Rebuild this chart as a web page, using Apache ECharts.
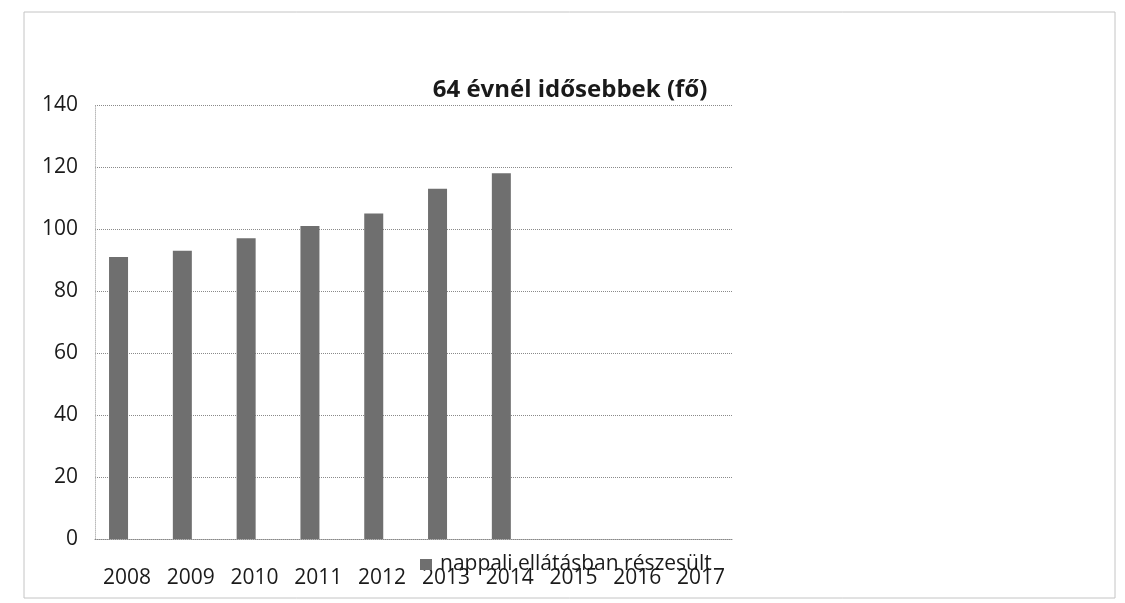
<!DOCTYPE html>
<html><head><meta charset="utf-8">
<script src="https://cdn.jsdelivr.net/npm/echarts@6/dist/echarts.min.js"></script>
<style>html,body{margin:0;padding:0;background:#fff}#c{width:1125px;height:603px}</style>
</head><body><div id="c"></div>
<script>
const categories = ['2008','2009','2010','2011','2012','2013','2014','2015','2016','2017'];
const values = [91, 93, 97, 101, 105, 113, 118, null, null, null];
const emptyValues = [null, null, null, null, null, null, null, null, null, null];
const seriesName = 'nappali ellátásban részesült';
const titleText = '64 évnél idősebbek (fő)';

const chart = echarts.init(document.getElementById('c'));
chart.setOption({
  animation: false,
  backgroundColor: '#fff',
  graphic: [{
    type: 'rect', shape: {x: 24, y: 12, width: 1091, height: 586},
    style: {fill: 'none', stroke: '#c4c4c4', lineWidth: 1}
  }],
  title: {
    text: titleText, left: 565, top: 73, textAlign: 'center',
    textStyle: {fontFamily: 'Open Sans', fontWeight: 'bold', fontSize: 24, color: '#1a1a1a'}
  },
  legend: {
    data: [seriesName], left: 420, top: 554, padding: 0,
    itemWidth: 12, itemHeight: 11, itemGap: 4, icon: 'rect',
    textStyle: {fontFamily: 'Open Sans', fontSize: 21, fontWeight: 500, color: '#1a1a1a', padding: [0,0,0,3]}
  },
  grid: {left: 95, right: 392, top: 105, bottom: 64},
  xAxis: {
    type: 'category', data: categories,
    axisLine: {lineStyle: {color: '#888', type: 'dotted'}},
    axisTick: {show: false},
    axisLabel: {fontFamily: 'Open Sans', fontSize: 21, fontWeight: 500, color: '#1a1a1a', margin: 29}
  },
  yAxis: {
    type: 'value', min: 0, max: 140, interval: 20,
    axisLine: {show: true, lineStyle: {color: '#bbb', type: 'dotted'}},
    axisTick: {show: false},
    axisLabel: {fontFamily: 'Open Sans', fontSize: 21, fontWeight: 500, color: '#1a1a1a', margin: 17},
    splitLine: {lineStyle: {color: '#8a8a8a', type: 'dotted'}}
  },
  series: [{
    name: seriesName, type: 'bar', data: values, barWidth: 19, barGap: '-12%',
    itemStyle: {color: '#6f6f6f'}
  }, {
    name: 'hidden', type: 'bar', data: emptyValues, barWidth: 19,
    itemStyle: {color: '#999'}
  }]
});
</script></body></html>
